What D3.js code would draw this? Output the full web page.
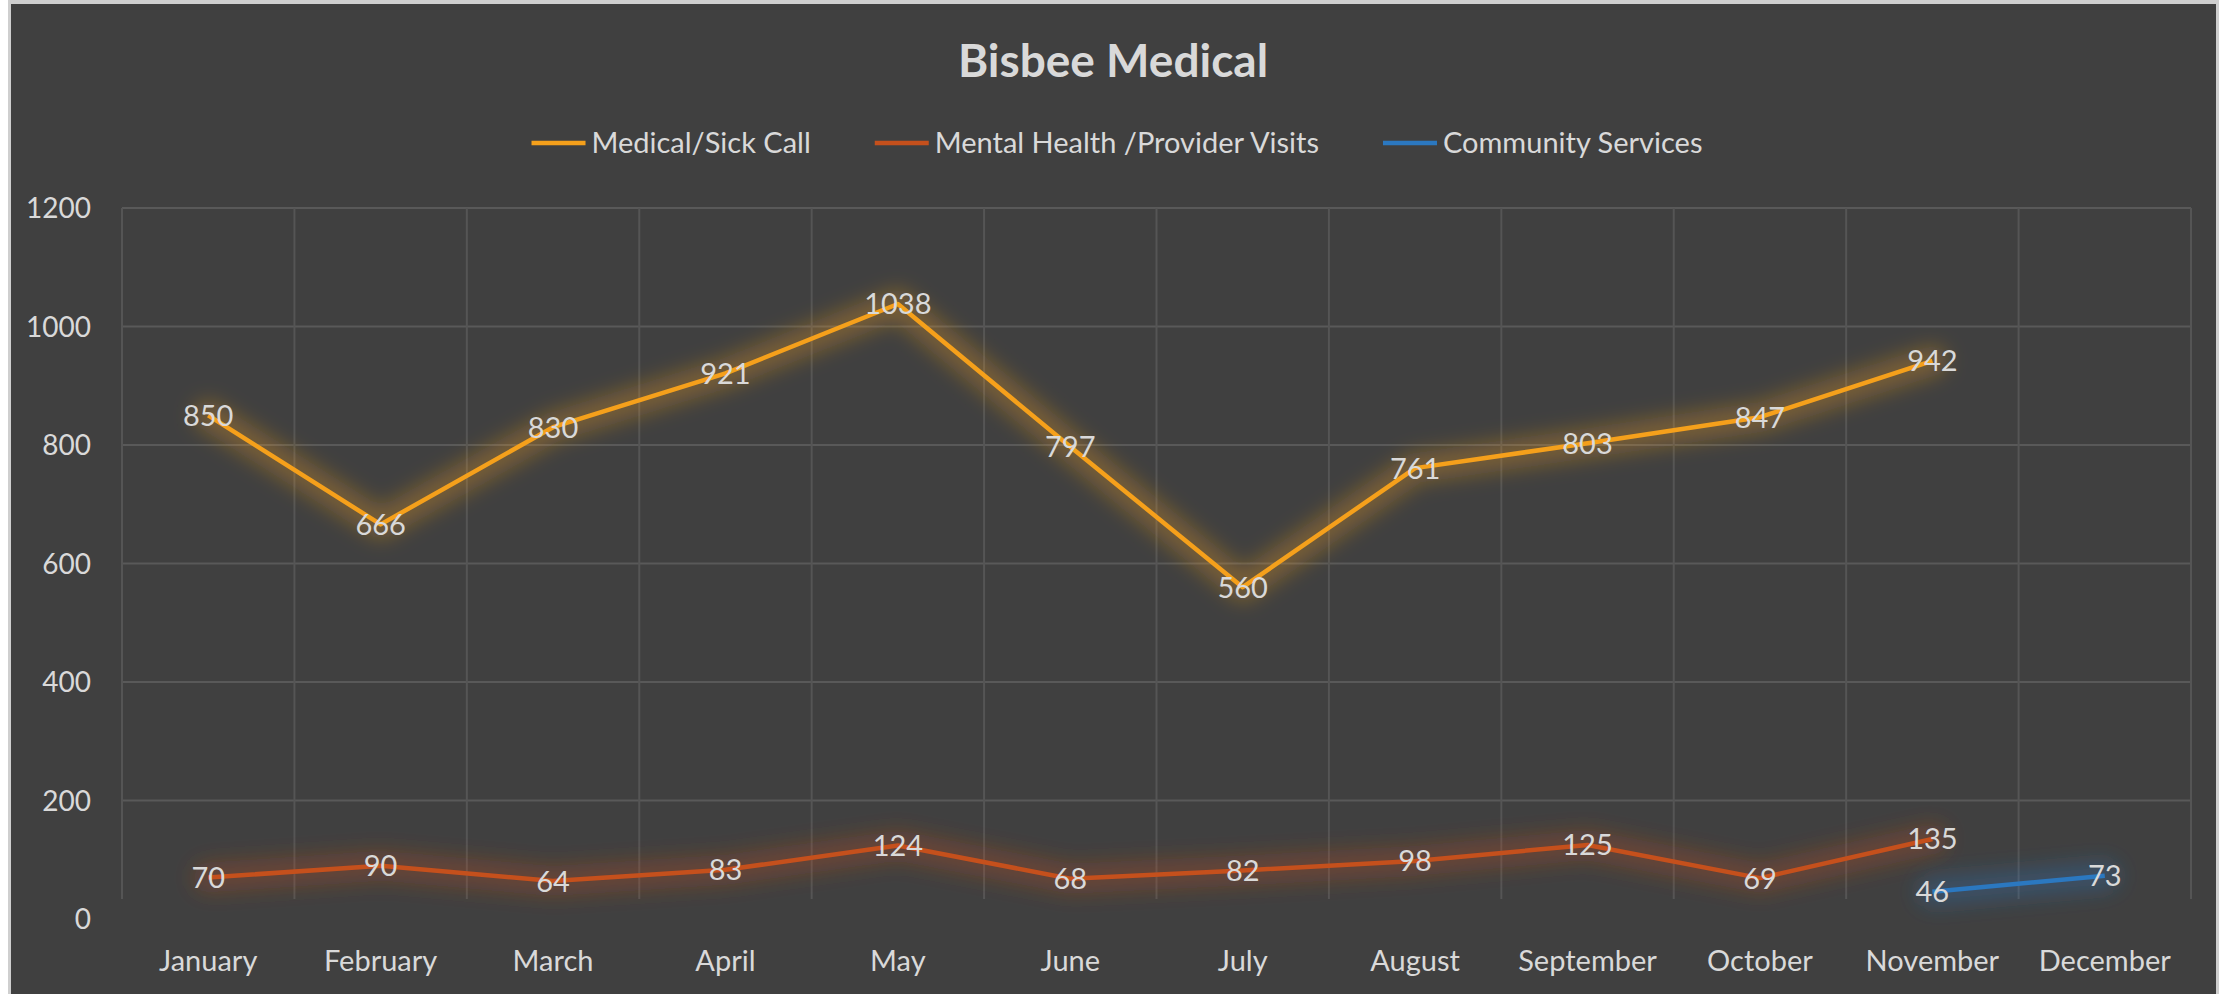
<!DOCTYPE html>
<html>
<head>
<meta charset="utf-8">
<script src="https://cdn.jsdelivr.net/npm/d3@7"></script>
<style>
  body { margin: 0; background: #ffffff; }
  text { font-family: Lato, "Open Sans", sans-serif; }
</style>
</head>
<body>
<div id="chart"></div>
<script>
// chart data
const months = ["January", "February", "March", "April", "May", "June",
  "July", "August", "September", "October", "November", "December"];
const medical = [850, 666, 830, 921, 1038, 797, 560, 761, 803, 847, 942, null];
const mental = [70, 90, 64, 83, 124, 68, 82, 98, 125, 69, 135, null];
const community = [null, null, null, null, null, null, null, null, null, null, 46, 73];
const yTicks = [0, 200, 400, 600, 800, 1000, 1200];

const series = [
  { name: "Medical/Sick Call", values: medical, color: "#f5a01b" },
  { name: "Mental Health /Provider Visits", values: mental, color: "#c5501c" },
  { name: "Community Services", values: community, color: "#2b78c0" }
];

// page size
const width = 2224;
const height = 994;
const textColor = "#d9d9d9";

const svg = d3.select("#chart")
  .append("svg").attr("width", width).attr("height", height);

// outer frame
svg.append("rect")
  .attr("x", 8).attr("y", 0)
  .attr("width", 2211).attr("height", height)
  .attr("fill", "#cfcfcf");

// dark background
svg.append("rect")
  .attr("x", 11).attr("y", 4)
  .attr("width", 2205).attr("height", height - 4)
  .attr("fill", "#404040");

// glow filter, region covers the whole page so short lines are not clipped
const defs = svg.append("defs");
defs.append("filter")
  .attr("id", "glow")
  .attr("filterUnits", "userSpaceOnUse")
  .attr("x", 0).attr("y", 0)
  .attr("width", width).attr("height", height)
  .append("feGaussianBlur")
  .attr("stdDeviation", 10);

const x = d3.scaleBand().domain(months).range([122, 2191]);
const y = d3.scaleLinear().domain([0, 1200]).range([919, 208]);
const cx = m => x(m) + x.bandwidth() / 2;

// horizontal grid lines
svg.append("g")
  .selectAll("line")
  .data(yTicks.filter(d => d > 0))
  .join("line")
  .attr("x1", 122).attr("x2", 2191)
  .attr("y1", d => y(d)).attr("y2", d => y(d))
  .attr("stroke", "#595959")
  .attr("stroke-width", 2);

// vertical grid lines
const edges = months.map(m => x(m)).concat([x.range()[1]]);
svg.append("g")
  .selectAll("line")
  .data(edges)
  .join("line")
  .attr("x1", d => d).attr("x2", d => d)
  .attr("y1", y(1200)).attr("y2", y(0) - 20)
  .attr("stroke", "#555555")
  .attr("stroke-width", 2);

// y axis labels
svg.append("g")
  .selectAll("text")
  .data(yTicks)
  .join("text")
  .attr("x", 91)
  .attr("y", d => y(d))
  .attr("dy", "0.36em")
  .attr("text-anchor", "end")
  .attr("fill", textColor)
  .attr("font-size", 28)
  .text(d => d);

// x axis labels
svg.append("g")
  .selectAll("text")
  .data(months)
  .join("text")
  .attr("x", d => cx(d))
  .attr("y", 971)
  .attr("text-anchor", "middle")
  .attr("fill", textColor)
  .attr("font-size", 29)
  .text(d => d);

const line = d3.line()
  .defined(d => d.v != null)
  .x(d => cx(d.m))
  .y(d => y(d.v));

series.forEach(s => {
  const pts = months.map((m, i) => ({ m: m, v: s.values[i] }));

  // soft glow
  svg.append("path")
    .datum(pts)
    .attr("d", line)
    .attr("fill", "none")
    .attr("stroke", s.color)
    .attr("stroke-width", 30)
    .attr("stroke-opacity", 0.3)
    .attr("stroke-linejoin", "round")
    .attr("stroke-linecap", "round")
    .attr("filter", "url(#glow)");

  svg.append("path")
    .datum(pts)
    .attr("d", line)
    .attr("fill", "none")
    .attr("stroke", s.color)
    .attr("stroke-width", 4.5)
    .attr("stroke-linejoin", "round");
});

// data labels
series.forEach(s => {
  const pts = months.map((m, i) => ({ m: m, v: s.values[i] })).filter(d => d.v != null);
  svg.append("g")
    .selectAll("text")
    .data(pts)
    .join("text")
    .attr("x", d => cx(d.m))
    .attr("y", d => y(d.v))
    .attr("dy", "0.36em")
    .attr("text-anchor", "middle")
    .attr("fill", textColor)
    .attr("font-size", 29)
    .text(d => d.v);
});

// title
svg.append("text")
  .attr("x", 1113)
  .attr("y", 77)
  .attr("text-anchor", "middle")
  .attr("fill", textColor)
  .attr("font-size", 46)
  .attr("font-weight", "bold")
  .text("Bisbee Medical");

// legend
const legend = svg.append("g");
let lx = 0;
series.forEach(s => {
  const item = legend.append("g").attr("transform", `translate(${lx},0)`);
  item.append("line")
    .attr("x1", 0).attr("x2", 54)
    .attr("y1", 0).attr("y2", 0)
    .attr("stroke", s.color)
    .attr("stroke-width", 4.5);
  const t = item.append("text")
    .attr("x", 60)
    .attr("dy", "0.36em")
    .attr("fill", textColor)
    .attr("font-size", 29)
    .text(s.name);
  lx += 60 + t.node().getComputedTextLength() + 64;
});
const legendWidth = lx - 64;
legend.attr("transform", `translate(${1117 - legendWidth / 2},143)`);
</script>
</body>
</html>
